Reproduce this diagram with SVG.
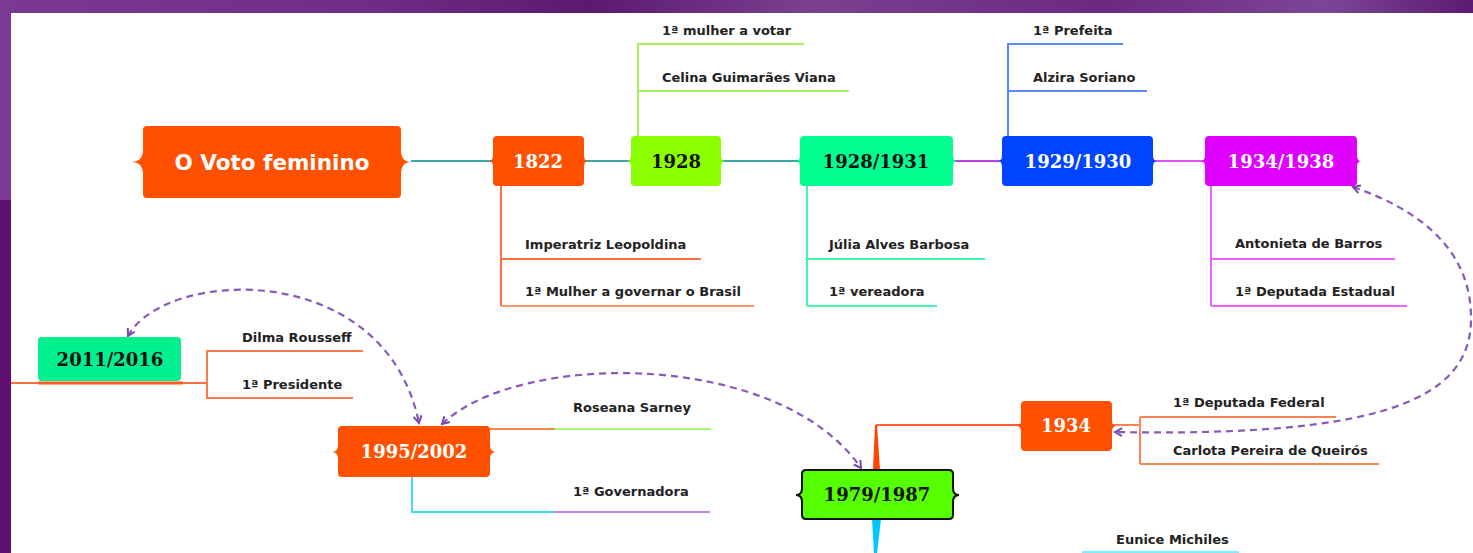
<svg xmlns="http://www.w3.org/2000/svg" width="1473" height="553" viewBox="0 0 1473 553">
<defs>
<linearGradient id="topbg" x1="0" y1="0" x2="1" y2="0">
<stop offset="0" stop-color="#7a3a92"/><stop offset="0.25" stop-color="#6e2e86"/><stop offset="0.4" stop-color="#5a1a6e"/><stop offset="0.55" stop-color="#7b4090"/><stop offset="0.75" stop-color="#6a2a80"/><stop offset="0.9" stop-color="#7e4596"/><stop offset="1" stop-color="#5a1c70"/>
</linearGradient>
<marker id="chev" viewBox="0 0 10 10" refX="8" refY="5" markerWidth="10" markerHeight="10" markerUnits="userSpaceOnUse" orient="auto-start-reverse">
<path d="M1,1 L8,5 L1,9" fill="none" stroke="#7a4aa8" stroke-width="2"/>
</marker>
<style>
.lbl{font-family:"DejaVu Sans",Verdana,sans-serif;font-weight:bold;font-size:13px;fill:#222}
.yr{font-family:"DejaVu Serif",Georgia,serif;font-weight:bold;font-size:18px;text-anchor:middle}
.w{fill:#fff}
.k{fill:#111}
.dash{fill:none;stroke:#8a58b8;stroke-width:2.2;stroke-dasharray:7 5;marker-start:url(#chev);marker-end:url(#chev)}
.ln{fill:none;stroke-width:2}
</style>
</defs>
<rect x="0" y="0" width="1473" height="553" fill="#ffffff"/>
<rect x="0" y="0" width="1473" height="13" fill="url(#topbg)"/>
<rect x="0" y="13" width="11" height="190" fill="#7a3a94"/>
<rect x="0" y="200" width="11" height="353" fill="#5e0f6f"/>

<g id="connectors">
<line x1="411" y1="161" x2="493" y2="161" stroke="#3aa8a8" stroke-width="2"/>
<line x1="584" y1="161" x2="631" y2="161" stroke="#3aa8a8" stroke-width="2"/>
<line x1="721" y1="161" x2="800" y2="161" stroke="#3aa8a8" stroke-width="2"/>
<line x1="953" y1="161" x2="1002" y2="161" stroke="#c040e8" stroke-width="2"/>
<line x1="1153" y1="161" x2="1205" y2="161" stroke="#e050ff" stroke-width="2"/>
<path class="ln" stroke="#a8f060" d="M638 136 V44 H804 M638 91 H849"/>
<path class="ln" stroke="#ff7040" d="M501 186 V306 M501 259 H701"/>
<path class="ln" stroke="#ff9468" d="M501 306 H754"/>
<path class="ln" stroke="#40f8a8" d="M807 186 V306 M807 259 H985 M807 306 H937"/>
<path class="ln" stroke="#5a86ff" d="M1008 136 V44 H1123 M1008 91 H1147"/>
<path class="ln" stroke="#f060ff" d="M1211 186 V306 M1211 259 H1395 M1211 306 H1407"/>
<path class="ln" stroke="#ff8050" d="M1112 425 H1140 M1140 417 V464 M1140 417 H1336 M1140 464 H1379"/>
<path class="ln" stroke="#ff6030" d="M1021 425 H876"/>
<path d="M875 425 L877 425 L880 470 L873 470 Z" fill="#ff4400"/>
<path d="M872 519 L881 519 L877 553 L874 553 Z" fill="#00c8ff"/>
<line x1="1082" y1="552" x2="1239" y2="552" stroke="#80ecff" stroke-width="2"/>
<path class="ln" stroke="#ff8050" d="M490 429 H555"/>
<path class="ln" stroke="#a0ff70" d="M555 429 H711"/>
<path class="ln" stroke="#40d8ff" d="M412 477 V512 H555"/>
<path class="ln" stroke="#c080ff" d="M555 512 H710"/>
<line x1="11" y1="383" x2="207" y2="383" stroke="#ff7040" stroke-width="2"/>
<line x1="38" y1="383" x2="183" y2="383" stroke="#ff5a20" stroke-width="3"/>
<path class="ln" stroke="#ff7a48" d="M207 383 V351 H363 M207 383 V398 H353"/>
<path class="dash" d="M128 336 C165 268 385 258 419 423"/>
<path class="dash" d="M442 424 C520 350 780 350 861 468"/>
<path class="dash" d="M1353 187 C1420 210 1472 250 1471 320 C1470 400 1380 437 1115 432"/>
</g>

<g id="node-voto">
<path d="M147 126 H397 Q401 126 401 130 V150 Q401 162 411 162 Q401 162 401 174 V194 Q401 198 397 198 H147 Q143 198 143 194 V174 Q143 162 131 162 Q143 162 143 150 V130 Q143 126 147 126 Z" fill="#ff5000"/>
<text x="272" y="170" text-anchor="middle" font-family="DejaVu Sans, Verdana, sans-serif" font-weight="bold" font-size="21.5" fill="#fff">O Voto feminino</text>
</g>

<g id="node-1822">
<path d="M497 136 H580 Q584 136 584 140 V155 Q584 161 588 161 Q584 161 584 167 V182 Q584 186 580 186 H497 Q493 186 493 182 V167 Q493 161 489 161 Q493 161 493 155 V140 Q493 136 497 136 Z" fill="#ff5000"/>
<text class="yr w" x="538" y="168">1822</text>
</g>
<g id="label-1822">
<text class="lbl" x="525" y="249">Imperatriz Leopoldina</text>
<text class="lbl" x="525" y="296">1ª Mulher a governar o Brasil</text>
</g>

<g id="node-1928">
<path d="M635 136 H717 Q721 136 721 140 V155 Q721 161 725 161 Q721 161 721 167 V182 Q721 186 717 186 H635 Q631 186 631 182 V167 Q631 161 627 161 Q631 161 631 155 V140 Q631 136 635 136 Z" fill="#8cff00"/>
<text class="yr k" x="676" y="168">1928</text>
</g>
<g id="label-1928">
<text class="lbl" x="662" y="35">1ª mulher a votar</text>
<text class="lbl" x="662" y="82">Celina Guimarães Viana</text>
</g>

<g id="node-1928-1931">
<path d="M804 136 H949 Q953 136 953 140 V155 Q953 161 957 161 Q953 161 953 167 V182 Q953 186 949 186 H804 Q800 186 800 182 V167 Q800 161 796 161 Q800 161 800 155 V140 Q800 136 804 136 Z" fill="#00ff90"/>
<text class="yr k" x="876" y="168">1928/1931</text>
</g>
<g id="label-1928-1931">
<text class="lbl" x="829" y="249">Júlia Alves Barbosa</text>
<text class="lbl" x="829" y="296">1ª vereadora</text>
</g>

<g id="node-1929-1930">
<path d="M1006 136 H1149 Q1153 136 1153 140 V155 Q1153 161 1157 161 Q1153 161 1153 167 V182 Q1153 186 1149 186 H1006 Q1002 186 1002 182 V167 Q1002 161 998 161 Q1002 161 1002 155 V140 Q1002 136 1006 136 Z" fill="#0044ff"/>
<text class="yr w" x="1078" y="168">1929/1930</text>
</g>
<g id="label-1929-1930">
<text class="lbl" x="1033" y="35">1ª Prefeita</text>
<text class="lbl" x="1033" y="82">Alzira Soriano</text>
</g>

<g id="node-1934-1938">
<path d="M1209 136 H1353 Q1357 136 1357 140 V155 Q1357 161 1361 161 Q1357 161 1357 167 V182 Q1357 186 1353 186 H1209 Q1205 186 1205 182 V167 Q1205 161 1201 161 Q1205 161 1205 155 V140 Q1205 136 1209 136 Z" fill="#e000ff"/>
<text class="yr w" x="1281" y="168">1934/1938</text>
</g>
<g id="label-1934-1938">
<text class="lbl" x="1235" y="248">Antonieta de Barros</text>
<text class="lbl" x="1235" y="296">1ª Deputada Estadual</text>
</g>

<g id="node-1934">
<path d="M1025 401 H1108 Q1112 401 1112 405 V420 Q1112 426 1116 426 Q1112 426 1112 432 V447 Q1112 451 1108 451 H1025 Q1021 451 1021 447 V432 Q1021 426 1017 426 Q1021 426 1021 420 V405 Q1021 401 1025 401 Z" fill="#ff5000"/>
<text class="yr w" x="1066" y="432">1934</text>
</g>
<g id="label-1934">
<text class="lbl" x="1173" y="407">1ª Deputada Federal</text>
<text class="lbl" x="1173" y="455">Carlota Pereira de Queirós</text>
</g>

<g id="node-1979-1987">
<path d="M806 470 H949 Q953 470 953 474 V488 Q953 495 959 495 Q953 495 953 502 V515 Q953 519 949 519 H806 Q802 519 802 515 V502 Q802 495 796 495 Q802 495 802 488 V474 Q802 470 806 470 Z" fill="#55ff00" stroke="#111" stroke-width="2"/>
<text class="yr k" x="877" y="501">1979/1987</text>
</g>
<g id="label-1979-1987">
<text class="lbl" x="1116" y="544">Eunice Michiles</text>
</g>

<g id="node-1995-2002">
<path d="M342 426 H486 Q490 426 490 430 V445 Q490 452 496 452 Q490 452 490 459 V473 Q490 477 486 477 H342 Q338 477 338 473 V459 Q338 452 332 452 Q338 452 338 445 V430 Q338 426 342 426 Z" fill="#ff5000"/>
<text class="yr w" x="414" y="458">1995/2002</text>
</g>
<g id="label-1995-2002">
<text class="lbl" x="573" y="412">Roseana Sarney</text>
<text class="lbl" x="573" y="496">1ª Governadora</text>
</g>

<g id="node-2011-2016">
<rect x="38" y="337" width="143" height="44" rx="4" fill="#00f090"/>
<text class="yr k" x="110" y="366">2011/2016</text>
</g>
<g id="label-2011-2016">
<text class="lbl" x="242" y="342">Dilma Rousseff</text>
<text class="lbl" x="242" y="389">1ª Presidente</text>
</g>
</svg>
